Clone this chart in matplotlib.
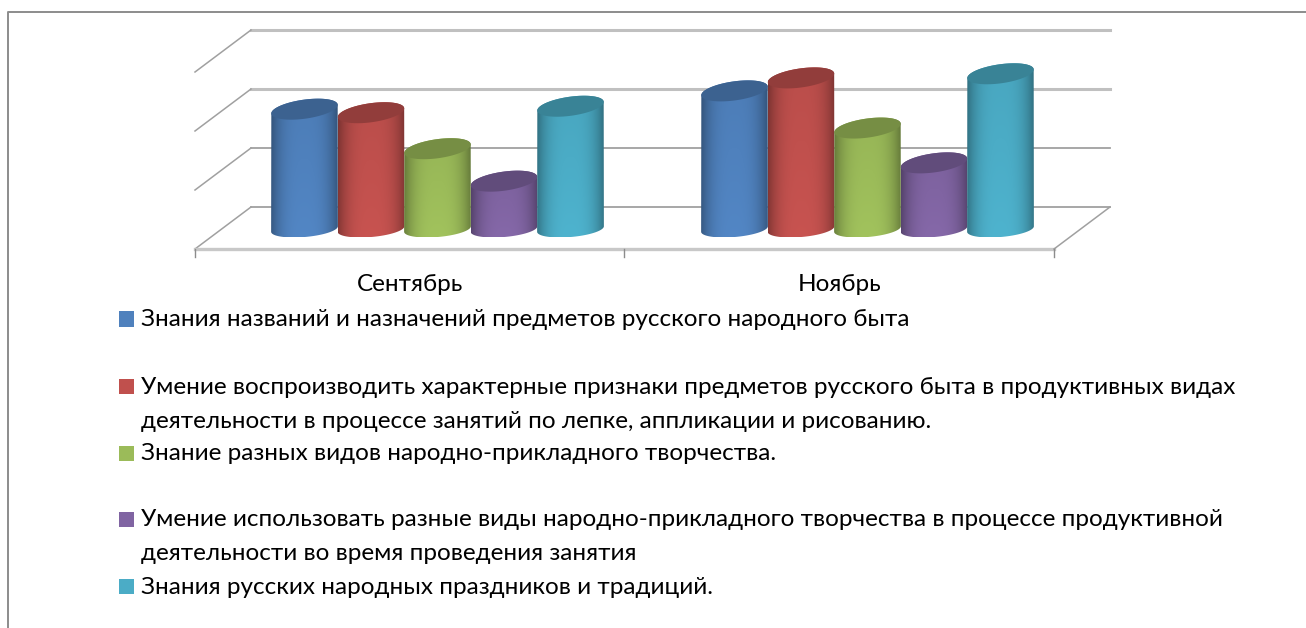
import numpy as np
import matplotlib
matplotlib.use("Agg")
import matplotlib.pyplot as plt
from matplotlib.patches import PathPatch, Rectangle
from matplotlib.path import Path

W, H = 1306, 628

months = ["Сентябрь", "Ноябрь"]
knowledge_names = [1.98, 2.29]
reproduce_signs = [1.92, 2.51]
craft_kinds = [1.31, 1.66]
craft_use = [0.76, 1.07]
holidays = [2.03, 2.58]

series_values = [knowledge_names, reproduce_signs, craft_kinds, craft_use, holidays]
series_colors = ["#4f81bd", "#c0504d", "#9bbb59", "#8064a2", "#4bacc6"]
grid_levels = [0, 1, 2, 3]

legend_labels = [
    ["Знания названий и назначений предметов русского народного быта"],
    ["Умение воспроизводить характерные признаки предметов русского быта в продуктивных видах",
     "деятельности в процессе занятий по лепке, аппликации и рисованию."],
    ["Знание разных видов народно-прикладного творчества."],
    ["Умение использовать разные виды народно-прикладного творчества в процессе продуктивной",
     "деятельности во время проведения занятия"],
    ["Знания русских народных праздников и традиций."],
]

# scale: one category = 429.5 px, one grid step = 59 px
X_PX = 429.5
Y_PX = 59.0
X0_PX = 195
Y0_PX = 207
DEPTH_X = 56 / X_PX
DEPTH_Y = 42 / Y_PX
FONT = ["Lato", "Open Sans", "DejaVu Sans"]
FONT_SIZE = 17.5


def shade(color, f):
    rgb = np.array(matplotlib.colors.to_rgb(color))
    return tuple(np.clip(rgb * f, 0, 1))


def half_ellipse(half_w, half_h, tilt_deg, upper):
    # left to right, offsets in data units
    theta = np.radians(tilt_deg)
    t = np.linspace(np.pi, 0, 60) if upper else np.linspace(np.pi, 2 * np.pi, 60)
    x = half_w * np.cos(t) * np.cos(theta) - half_h * np.sin(t) * np.sin(theta)
    y = half_w * np.cos(t) * np.sin(theta) + half_h * np.sin(t) * np.cos(theta)
    return x / X_PX, y / Y_PX


def cylinder(ax, left, value, color, zorder):
    half_w = 33.5
    cx = left + half_w / X_PX
    top = value - 19 / Y_PX
    base = -22 / Y_PX

    bx, by = half_ellipse(half_w, 8, 5, upper=False)
    ux, uy = half_ellipse(half_w, 9.5, 8, upper=True)
    lx, ly = half_ellipse(half_w, 9.5, 8, upper=False)

    xs = np.r_[cx + bx, (cx + ux)[::-1]]
    ys = np.r_[base + by, (top + uy)[::-1]]

    # body shading, dark at the sides and lighter toward the bottom
    u = np.linspace(-1, 1, 80)
    v = np.linspace(0, 1, 30)
    across = 0.68 + 0.34 * (1 - np.abs(u) ** 3)
    down = 0.95 + 0.07 * v
    img = np.clip(np.outer(down, across)[..., None] * np.array(matplotlib.colors.to_rgb(color)), 0, 1)
    im = ax.imshow(img, extent=(xs.min(), xs.max(), ys.min(), ys.max()),
                   aspect="auto", origin="upper", zorder=zorder, interpolation="bilinear")
    patch = PathPatch(Path(np.c_[xs, ys]), transform=ax.transData, fc="none", ec="none")
    ax.add_patch(patch)
    im.set_clip_path(patch)

    ax.fill(np.r_[cx + lx, (cx + ux)[::-1]], np.r_[top + ly, (top + uy)[::-1]],
            color=shade(color, 0.76), lw=0, zorder=zorder + 0.5)


fig = plt.figure(figsize=(W / 100, H / 100), dpi=100, facecolor="white")
ax = fig.add_axes([0, 0, 1, 1])
ax.set_xlim(-X0_PX / X_PX, (W - X0_PX) / X_PX)
ax.set_ylim(-(H - Y0_PX) / Y_PX, Y0_PX / Y_PX)
ax.axis("off")

# back wall and side grid
for level in grid_levels:
    thick = level >= 2
    lw = 2.2 if thick else 1.3
    col = "#c0c0c0" if thick else "#a0a0a0"
    ax.plot([DEPTH_X, 2 + DEPTH_X], [level, level], color=col, lw=lw, zorder=1)
    ax.plot([0, DEPTH_X], [level - DEPTH_Y, level], color="#a0a0a0", lw=1.1, zorder=1)

# floor
ax.plot([0, 2], [-DEPTH_Y, -DEPTH_Y], color="#c8c8c8", lw=2.4, zorder=1)
ax.plot([2, 2 + DEPTH_X], [-DEPTH_Y, 0], color="#a0a0a0", lw=1.1, zorder=1)
for tick in range(len(months) + 1):
    ax.plot([tick, tick], [-DEPTH_Y, -DEPTH_Y - 8 / Y_PX], color="#8c8c8c", lw=1.0, zorder=1)

group_start = [76 / X_PX, 506 / X_PX]
step = 66.5 / X_PX
z = 3
for g in range(len(months)):
    for s, values in enumerate(series_values):
        cylinder(ax, group_start[g] + s * step, values[g], series_colors[s], z)
        z += 1

for i, month in enumerate(months):
    ax.text(i + 0.5, -(284 - Y0_PX) / Y_PX, month, ha="center", va="center",
            fontsize=FONT_SIZE, family=FONT, color="#000000")

# legend in pixel positions
legend_y = [320, 387, 454, 520, 587]
line_gap = 34
for y, lines, color in zip(legend_y, legend_labels, series_colors):
    fig.add_artist(Rectangle((119 / W, 1 - (y - 1 + 7.5) / H), 15 / W, 15 / H,
                             transform=fig.transFigure, fc=color, ec="none"))
    for k, line in enumerate(lines):
        fig.text(141 / W, 1 - (y + k * line_gap) / H, line, ha="left", va="center",
                 fontsize=FONT_SIZE, family=FONT, color="#000000")

# outer frame
fig.add_artist(plt.Line2D([7.5 / W, 7.5 / W, 1], [0, 1 - 11.5 / H, 1 - 11.5 / H],
                          transform=fig.transFigure, color="#8c8c8c", lw=1.4))

fig.savefig("out.png", dpi=100)
